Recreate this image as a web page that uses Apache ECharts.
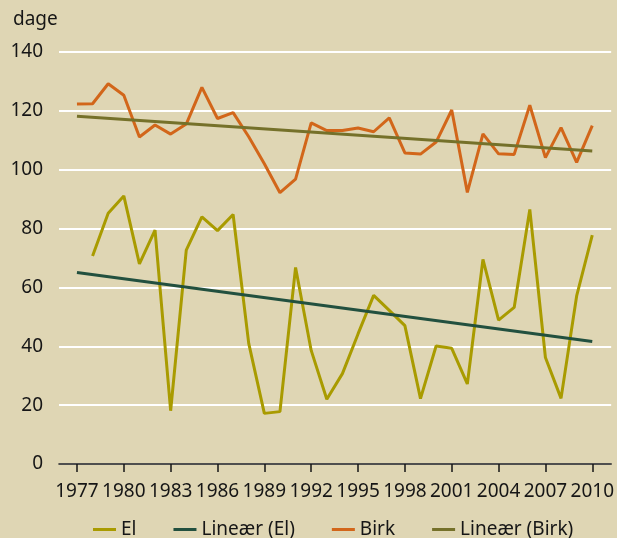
<!DOCTYPE html>
<html lang="da">
<head>
    <meta charset="UTF-8">
    <title>El og Birk</title>
    <script src="https://cdn.jsdelivr.net/npm/echarts@6.0.0/dist/echarts.min.js"></script>
    <style>
        html, body { margin: 0; padding: 0; background: #dfd6b4; }
    </style>
</head>
<body>
    <div id="main" style="width: 617px;height:538px;"></div>
    <script>
        // data
        const years = [1977, 1978, 1979, 1980, 1981, 1982, 1983, 1984, 1985, 1986, 1987, 1988, 1989, 1990, 1991, 1992, 1993,
                       1994, 1995, 1996, 1997, 1998, 1999, 2000, 2001, 2002, 2003, 2004, 2005, 2006, 2007, 2008, 2009, 2010];
        const elValues = [null, 70.7, 85.2, 91.1, 68.0, 79.5, 18.1, 72.7, 84.0, 79.3, 84.8, 41.0, 17.2, 17.8, 66.8, 38.6, 22.0,
                          30.7, 44.2, 57.3, 52.2, 47.0, 22.2, 40.1, 39.3, 27.2, 69.5, 48.9, 53.2, 86.5, 36.2, 22.3, 57.1, 77.8];
        const birkValues = [122.3, 122.4, 129.2, 125.3, 111.1, 115.2, 112.1, 115.5, 128.0, 117.4, 119.4, 111.2, 102.0, 92.2, 96.8, 115.9, 113.3,
                            113.3, 114.2, 112.9, 117.6, 105.7, 105.3, 109.4, 120.3, 92.3, 112.2, 105.4, 105.2, 121.9, 104.1, 114.3, 102.5, 115.0];
        // trend lines: end points (1977 and 2010)
        const elTrend = [65.1, 41.6];
        const birkTrend = [118.2, 106.4];
        const tickYears = [1977, 1980, 1983, 1986, 1989, 1992, 1995, 1998, 2001, 2004, 2007, 2010];

        const pairs = (vals) => years.map((y, i) => [y, vals[i]]);
        const trendPairs = (t) => [[years[0], t[0]], [years[years.length - 1], t[1]]];

        const font = 'Noto Sans';
        const ink = '#161616';
        var myChart = echarts.init(document.getElementById('main'));

        var option = {
            backgroundColor: '#dfd6b4',
            animation: false,
            title: {
                text: 'dage',
                left: 8,
                top: 5,
                textStyle: { fontFamily: font, fontSize: 19, fontWeight: 'normal', color: ink }
            },
            grid: { left: 59, right: 3, top: 52, bottom: 74, containLabel: false },
            legend: {
                left: 88,
                top: 515,
                itemGap: 37,
                itemWidth: 23,
                itemHeight: 3,
                icon: 'rect',
                textStyle: { fontFamily: font, fontSize: 19, color: ink },
                data: ['El', 'Lineær (El)', 'Birk', 'Lineær (Birk)']
            },
            xAxis: {
                type: 'value',
                min: 1975.85,
                max: 2011.21,
                splitLine: { show: false },
                axisLine: { lineStyle: { color: ink, width: 1.5 } },
                axisTick: { customValues: tickYears, length: 8, lineStyle: { color: ink, width: 1.5 } },
                axisLabel: {
                    customValues: tickYears,
                    margin: 18,
                    fontFamily: font,
                    fontSize: 19,
                    color: ink,
                    formatter: (v) => String(v)
                }
            },
            yAxis: {
                type: 'value',
                min: 0,
                max: 140,
                interval: 20,
                axisLine: { show: false },
                axisTick: { show: false },
                splitLine: { lineStyle: { color: '#ffffff', width: 2 } },
                axisLabel: { margin: 16, fontFamily: font, fontSize: 19, color: ink }
            },
            series: [
                {
                    name: 'El', type: 'line', data: pairs(elValues), showSymbol: false,
                    lineStyle: { color: '#a99b00', width: 3 }, itemStyle: { color: '#a99b00' }
                },
                {
                    name: 'Lineær (El)', type: 'line', data: trendPairs(elTrend), showSymbol: false,
                    lineStyle: { color: '#22503f', width: 3 }, itemStyle: { color: '#22503f' }
                },
                {
                    name: 'Birk', type: 'line', data: pairs(birkValues), showSymbol: false,
                    lineStyle: { color: '#d2661a', width: 3 }, itemStyle: { color: '#d2661a' }
                },
                {
                    name: 'Lineær (Birk)', type: 'line', data: trendPairs(birkTrend), showSymbol: false,
                    lineStyle: { color: '#75712a', width: 3 }, itemStyle: { color: '#75712a' }
                }
            ]
        };

        myChart.setOption(option);
    </script>
</body>
</html>
